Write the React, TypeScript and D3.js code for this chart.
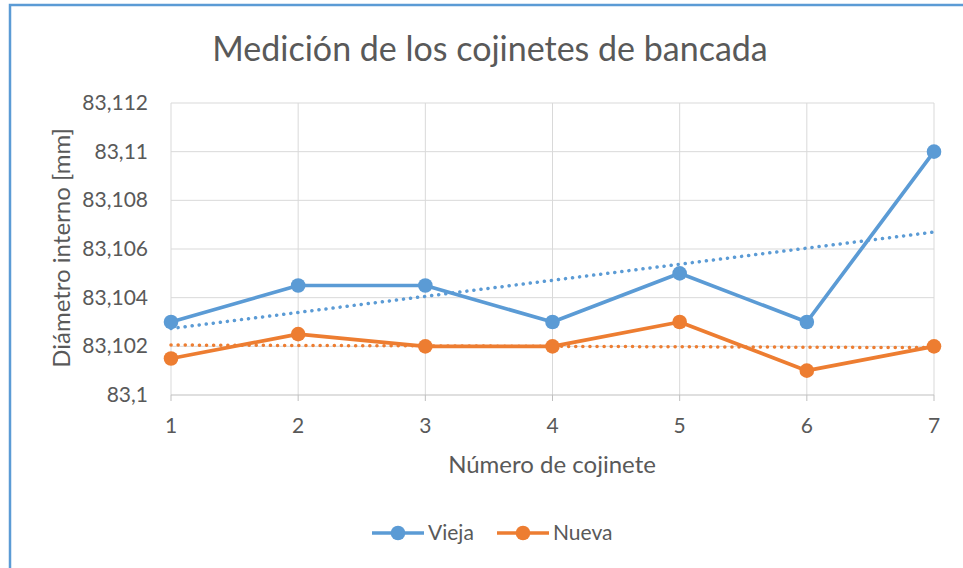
import React from "react";
import * as d3 from "d3";

const categories = [1, 2, 3, 4, 5, 6, 7];
const vieja = [83.103, 83.1045, 83.1045, 83.103, 83.105, 83.103, 83.11];
const nueva = [83.1015, 83.1025, 83.102, 83.102, 83.103, 83.101, 83.102];
const yTicks = [83.1, 83.102, 83.104, 83.106, 83.108, 83.11, 83.112];
const seriesNames = ["Vieja", "Nueva"];
const seriesColors = ["#5B9BD5", "#ED7D31"];

const W = 963;
const H = 568;
const FONT = "Lato, 'Open Sans', sans-serif";
const TEXT = "#595959";

const esLocale = d3.formatLocale({ decimal: ",", thousands: ".", grouping: [3], currency: ["", "€"] });
const fmt = esLocale.format("~f");

// linear least squares trend, like Excel's linear trendline
const trend = (xs: number[], ys: number[]) => {
  const mx = d3.mean(xs)!;
  const my = d3.mean(ys)!;
  const slope = d3.sum(xs, (x, i) => (x - mx) * (ys[i] - my)) / d3.sum(xs, (x) => (x - mx) ** 2);
  const b = my - slope * mx;
  const x0 = xs[0];
  const x1 = xs[xs.length - 1];
  return [
    [x0, slope * x0 + b],
    [x1, slope * x1 + b],
  ];
};

export default function App() {
  const x = d3.scaleLinear().domain([1, 7]).range([171, 934]);
  const y = d3.scaleLinear().domain([83.1, 83.112]).range([395, 103]);

  const line = d3
    .line<number>()
    .x((_, i) => x(categories[i]))
    .y((d) => y(d));
  const tline = d3
    .line<number[]>()
    .x((d) => x(d[0]))
    .y((d) => y(d[1]));

  const series = [vieja, nueva];

  return (
    <svg width={W} height={H} style={{ position: "absolute", left: 0, top: 0, background: "#fff" }}>
      <rect x={10} y={5} width={W} height={H} fill="#fff" stroke="#5B9BD5" strokeWidth={2.5} />

      <text x={490} y={61} textAnchor="middle" fontFamily={FONT} fontSize={34} fill={TEXT}>
        Medición de los cojinetes de bancada
      </text>

      {/* grid */}
      <g stroke="#D9D9D9" strokeWidth={1}>
        {yTicks.slice(1).map((t) => (
          <line key={t} x1={x(1)} x2={x(7)} y1={y(t)} y2={y(t)} />
        ))}
        {categories.map((c) => (
          <line key={c} x1={x(c)} x2={x(c)} y1={y(83.112)} y2={y(83.1)} />
        ))}
      </g>
      {/* category axis */}
      <g stroke="#BFBFBF" strokeWidth={1}>
        <line x1={x(1)} x2={x(7)} y1={y(83.1)} y2={y(83.1)} />
        {categories.map((c) => (
          <line key={c} x1={x(c)} x2={x(c)} y1={y(83.1)} y2={y(83.1) + 6} />
        ))}
      </g>

      <g fontFamily={FONT} fontSize={21} fill={TEXT}>
        {yTicks.map((t) => (
          <text key={t} x={148} y={y(t) + 7} textAnchor="end">
            {fmt(t)}
          </text>
        ))}
        {categories.map((c) => (
          <text key={c} x={x(c)} y={433} textAnchor="middle">
            {c}
          </text>
        ))}
        <text x={552} y={473} textAnchor="middle" fontSize={24}>
          Número de cojinete
        </text>
        <text transform="translate(70,248) rotate(-90)" textAnchor="middle" fontSize={24}>
          Diámetro interno [mm]
        </text>
      </g>

      {/* trendlines */}
      {series.map((s, k) => (
        <path
          key={"t" + k}
          d={tline(trend(categories, s))!}
          fill="none"
          stroke={seriesColors[k]}
          strokeWidth={3.5}
          strokeLinecap="round"
          strokeDasharray="0.1 7"
        />
      ))}

      {/* series */}
      {series.map((s, k) => (
        <g key={"s" + k}>
          <path d={line(s)!} fill="none" stroke={seriesColors[k]} strokeWidth={3.7} strokeLinejoin="round" />
          {s.map((v, i) => (
            <circle key={i} cx={x(categories[i])} cy={y(v)} r={7.3} fill={seriesColors[k]} />
          ))}
        </g>
      ))}

      {/* legend */}
      {seriesNames.map((n, k) => {
        const lx = 372 + k * 125;
        return (
          <g key={n}>
            <line x1={lx} x2={lx + 52} y1={533} y2={533} stroke={seriesColors[k]} strokeWidth={3.7} />
            <circle cx={lx + 26} cy={533} r={7.3} fill={seriesColors[k]} />
            <text x={lx + 56} y={540} fontFamily={FONT} fontSize={21} fill={TEXT}>
              {n}
            </text>
          </g>
        );
      })}
    </svg>
  );
}
